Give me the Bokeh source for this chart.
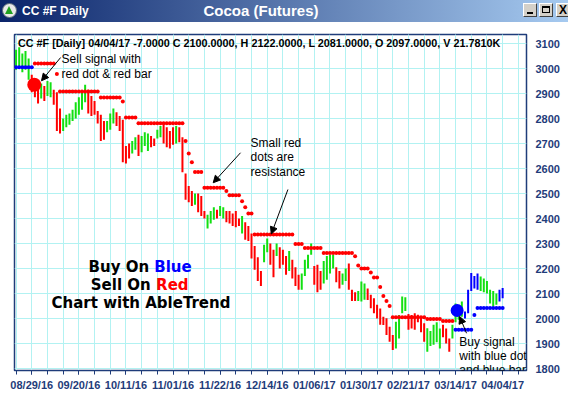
from bokeh.plotting import figure
from bokeh.layouts import column
from bokeh.models import FixedTicker, Range1d, Label, Arrow, NormalHead, ColumnDataSource, Div
from bokeh.embed import file_html
from bokeh.resources import INLINE

# ---------------- data ----------------
tick_idx = [5, 20, 35, 50, 65, 80, 95, 110, 125, 140, 155]
tick_labels = ["08/29/16", "09/20/16", "10/11/16", "11/01/16", "11/22/16", "12/14/16",
               "01/06/17", "01/30/17", "02/21/17", "03/14/17", "04/04/17"]
y_ticks = [1800, 1900, 2000, 2100, 2200, 2300, 2400, 2500, 2600, 2700, 2800, 2900, 3000, 3100]

bar_high = [3075, 3085, 3060, 3070, 3040, 2975, 2950, 2935, 2940, 2930, 2950, 2945, 2915, 2905, 2840, 2800,
            2815, 2820, 2835, 2865, 2885, 2905, 2935, 2915, 2890, 2870, 2830, 2815, 2790, 2790, 2820, 2840,
            2825, 2810, 2795, 2690, 2700, 2710, 2725, 2735, 2730, 2745, 2740, 2730, 2720, 2755, 2770, 2780,
            2765, 2750, 2765, 2770, 2765, 2725, 2580, 2530, 2510, 2500, 2500, 2490, 2430, 2415, 2430, 2445,
            2435, 2450, 2445, 2430, 2430, 2420, 2430, 2400, 2410, 2385, 2370, 2340, 2290, 2245, 2190, 2295,
            2320, 2300, 2275, 2300, 2285, 2275, 2250, 2270, 2235, 2205, 2175, 2180, 2235, 2255, 2300, 2210,
            2215, 2190, 2230, 2250, 2255, 2255, 2205, 2190, 2180, 2200, 2220, 2115, 2105, 2110, 2148, 2140,
            2120, 2095, 2081, 2055, 2040, 2007, 2001, 1967, 1934, 1987, 2014, 2088, 2085, 2018, 2014, 2021,
            2015, 2010, 1981, 1961, 1950, 1975, 1985, 1960, 1975, 1960, 1920, 1975, 2060, 2050, 2068, 2028,
            2115, 2182, 2170, 2180, 2168, 2160, 2150, 2115, 2110, 2100, 2115, 2122]
bar_low = [2995, 3005, 2985, 2995, 2955, 2905, 2885, 2860, 2880, 2870, 2890, 2885, 2855, 2750, 2740, 2750,
           2765, 2775, 2790, 2800, 2815, 2835, 2865, 2820, 2810, 2815, 2780, 2710, 2715, 2745, 2755, 2780,
           2770, 2750, 2625, 2620, 2640, 2660, 2675, 2650, 2665, 2690, 2670, 2685, 2690, 2720, 2725, 2700,
           2685, 2680, 2695, 2700, 2705, 2585, 2475, 2465, 2450, 2455, 2425, 2410, 2400, 2360, 2380, 2395,
           2400, 2410, 2400, 2385, 2380, 2370, 2365, 2370, 2340, 2315, 2310, 2240, 2195, 2150, 2130, 2225,
           2265, 2215, 2165, 2250, 2200, 2215, 2175, 2190, 2160, 2130, 2115, 2115, 2170, 2200, 2255, 2135,
           2105, 2115, 2140, 2155, 2180, 2200, 2145, 2120, 2135, 2150, 2115, 2070, 2070, 2070, 2068, 2075,
           2074, 2041, 2021, 2000, 1975, 1974, 1934, 1907, 1874, 1880, 1920, 2021, 2030, 1955, 1960, 1955,
           1985, 1945, 1907, 1867, 1890, 1895, 1905, 1880, 1925, 1900, 1867, 1920, 1985, 1995, 2007, 2000,
           2021, 2110, 2120, 2115, 2110, 2105, 2100, 2060, 2048, 2055, 2068, 2081]
# trend of each bar: g = neutral (green), r = down (red), b = up (blue)
bar_trend = ("ggggg" "rrrgrggrrr" "gggggggg" "rrrrrr" "ggg" "rrrrr" "gg" "r" "ggg" "rr" "gg" "rrrr" "g"
             "rrrrr" "g" "rrr" "ggg" "r" "gg" "rrrrr" "g" "rrrrrr" "gg" "rr" "g" "rrr" "g" "rrr" "gggg"
             "rrr" "gggg" "rr" "gg" "rrr" "ggg" "rrrrrrrrr" "gggg" "rrrrrr" "ggggg" "rrr" "gggg" "bbbbb"
             "gggggg" "bb")

res_idx = list(range(6, 140))
res_val = [3020, 3020, 3020, 3020, 3020, 3020, 3020, 2978, 2908, 2908, 2908, 2908, 2908, 2908, 2908, 2908,
           2908, 2908, 2908, 2908, 2908, 2884, 2884, 2884, 2884, 2884, 2884, 2884, 2868, 2804, 2804, 2804,
           2804, 2781, 2781, 2781, 2781, 2781, 2781, 2781, 2781, 2781, 2781, 2781, 2781, 2781, 2781, 2781,
           2710, 2660, 2625, 2586, 2586, 2586, 2523, 2523, 2523, 2523, 2523, 2523, 2523, 2510, 2493, 2493,
           2493, 2493, 2469, 2445, 2420, 2420, 2336, 2336, 2336, 2336, 2336, 2336, 2336, 2336, 2336, 2336,
           2336, 2336, 2336, 2298, 2298, 2298, 2282, 2282, 2282, 2282, 2282, 2282, 2262, 2262, 2262, 2262,
           2262, 2262, 2262, 2262, 2262, 2262, 2249, 2212, 2200, 2200, 2200, 2184, 2164, 2164, 2126, 2090,
           2070, 2050, 2005, 2005, 2005, 2005, 2005, 2005, 2005, 2005, 2005, 2005, 2005, 1998, 1998, 1998,
           1998, 1998, 1990, 1990, 1990, 1990]
sup_idx = [0, 1, 2, 3, 4, 5, 140, 141, 142, 143, 144, 145, 146, 147, 148, 149, 150, 151, 152, 153, 154, 155]
sup_val = [3005, 3005, 3005, 3005, 3005, 3005, 1955, 1955, 1955, 1955, 1955, 1955, 2014,
           2041.8, 2041.8, 2041.8, 2041.8, 2041.8, 2041.8, 2041.8, 2041.8, 2041.8]
sell_signal = ([5.8], [2935])
buy_signal = ([140.5], [2032])
last_close, last_stop = 2100.0, 2041.8

# ---------------- styling ----------------
NAVY = "#1f3c7a"
GRID = "#b2f2f2"
COLS = {"g": "#12e012", "r": "#ff0000", "b": "#0000ff"}
FONT = "Liberation Sans"

# ---------------- window title bar (HTML) ----------------
btn = ("position:absolute;top:3px;width:14px;height:14px;background:#d4d0c8;"
       "border:1px solid;border-color:#ffffff #404040 #404040 #ffffff;box-sizing:border-box;")
title_html = f"""
<div style="position:relative;width:568px;height:22px;overflow:hidden;
 background:linear-gradient(to right,#0a246a,#a6caf0);font-family:'Liberation Sans',Arial,sans-serif;">
 <div style="position:absolute;left:2px;top:3px;width:15px;height:15px;border-radius:50%;
  background:#e8e8e8;border:1px solid #5a6a7a;box-sizing:border-box;"></div>
 <div style="position:absolute;left:5px;top:6px;width:0;height:0;border-left:4.5px solid transparent;
  border-right:4.5px solid transparent;border-bottom:8px solid #20a020;"></div>
 <span style="position:absolute;left:22px;top:3px;color:#ffffff;font-weight:bold;font-size:12px;
  line-height:16px;white-space:nowrap;">CC #F Daily</span>
 <span style="position:absolute;left:0;width:522px;text-align:center;top:1px;color:#ffffff;
  font-weight:bold;font-size:15px;line-height:20px;white-space:nowrap;">Cocoa (Futures)</span>
 <div style="{btn}left:523px;"><div style="position:absolute;left:3px;top:8px;width:6px;height:2px;background:#000;"></div></div>
 <div style="{btn}left:539px;"><div style="position:absolute;left:2px;top:2px;width:8px;height:7px;
  border:1px solid #000;border-top-width:2px;"></div></div>
 <div style="{btn}left:556px;"><span style="position:absolute;left:2px;top:-1px;font-size:12px;
  font-weight:bold;line-height:14px;color:#000;">X</span></div>
</div>
"""
t = Div(text=title_html, width=568, height=22, margin=0)

# ---------------- main chart ----------------
p = figure(width=568, height=374, x_range=Range1d(-0.5, 162.6), y_range=Range1d(1792, 3136),
           output_backend="svg", toolbar_location=None, y_axis_location="right",
           min_border_left=14, min_border_right=42, min_border_top=12, min_border_bottom=26)
p.background_fill_color = "white"
p.border_fill_color = "white"
p.outline_line_color = NAVY
p.outline_line_width = 1.5

p.xaxis.ticker = FixedTicker(ticks=tick_idx, minor_ticks=list(range(0, 161, 5)))
p.xaxis.major_label_overrides = {k: v for k, v in zip(tick_idx, tick_labels)}
p.yaxis.ticker = FixedTicker(ticks=y_ticks)
for ax in (p.xaxis, p.yaxis):
    ax.major_label_text_font = FONT
    ax.major_label_text_font_style = "bold"
    ax.major_label_text_font_size = "11px"
    ax.major_label_text_color = NAVY
p.xaxis.axis_line_color = NAVY
p.xaxis.major_tick_line_color = NAVY
p.xaxis.minor_tick_line_color = NAVY
p.xaxis.major_tick_in = 0
p.xaxis.minor_tick_in = 0
p.xaxis.major_tick_out = 4
p.xaxis.minor_tick_out = 4
p.xaxis.major_label_standoff = 4
p.yaxis.axis_line_color = None
p.yaxis.major_tick_line_color = None
p.yaxis.minor_tick_line_color = None
p.yaxis.major_tick_out = 0
p.yaxis.major_tick_in = 0
p.yaxis.minor_tick_out = 0
p.yaxis.minor_tick_in = 0
p.yaxis.major_label_standoff = 9
p.xgrid.grid_line_color = GRID
p.xgrid.minor_grid_line_color = GRID
p.ygrid.grid_line_color = GRID

src = ColumnDataSource(dict(x=list(range(len(bar_high))), hi=bar_high, lo=bar_low,
                            c=[COLS[k] for k in bar_trend]))
p.segment(x0="x", y0="lo", x1="x", y1="hi", color="c", line_width=2, source=src)
p.scatter(res_idx, res_val, size=4, color="#ff0000", line_color=None)
p.scatter(sup_idx, sup_val, size=4, color="#0000ff", line_color=None)
p.scatter(*sell_signal, size=14, color="#ff0000", line_color=None)
p.scatter(*buy_signal, size=13, color="#0000ff", line_color=None)

def lab(x, y, text, size="12px", color="black", bold=False, font=FONT, align="left"):
    p.add_layout(Label(x=x, y=y, text=text, text_color=color, text_font=font,
                       text_font_style="bold" if bold else "normal", text_font_size=size,
                       text_baseline="middle", text_align=align))

lab(0.6, 3102, "CC #F [Daily] 04/04/17  -7.0000 C 2100.0000, H 2122.0000, L 2081.0000, O 2097.0000, V 21.7810K",
    size="10.8px", bold=True)
lab(14.5, 3040, "Sell signal with")
lab(14.5, 2980, "red dot & red bar")
lab(74.7, 2702, "Small red")
lab(74.7, 2646, "dots are")
lab(74.7, 2588, "resistance")
lab(141.2, 1907, "Buy signal")
lab(141.2, 1851, "with blue dot")
lab(141.2, 1795, "and blue bar")
BIG = "DejaVu Sans"
lab(23.1, 2208, "Buy On", size="15px", bold=True, font=BIG)
lab(44.0, 2208, "Blue", size="15px", bold=True, font=BIG, color="#0000ff")
lab(23.8, 2136, "Sell On", size="15px", bold=True, font=BIG)
lab(44.6, 2136, "Red", size="15px", bold=True, font=BIG, color="#ff0000")
lab(39.8, 2062, "Chart with AbleTrend", size="15px", bold=True, font=BIG, align="center")

arrows = [(14.2, 3044, 8.1, 2951), (71.5, 2663, 62.8, 2543), (86.6, 2516, 81.3, 2338), (143.5, 1941, 141.3, 2008)]
for xs, ys, xe, ye in arrows:
    p.add_layout(Arrow(end=NormalHead(size=7, fill_color="black", line_color="black"),
                       x_start=xs, y_start=ys, x_end=xe, y_end=ye, line_color="black", line_width=1))

for val, txt in ((last_close, "2100.00"), (last_stop, "2041.80")):
    p.add_layout(Label(x=163.3, y=val, text=txt, text_color="#ffff00", text_font=FONT,
                       text_font_style="bold", text_font_size="11px", text_baseline="middle",
                       background_fill_color="#0000ff", padding=1))

layout = column(t, p, spacing=0)
open("out.html", "w").write(file_html(layout, INLINE))
